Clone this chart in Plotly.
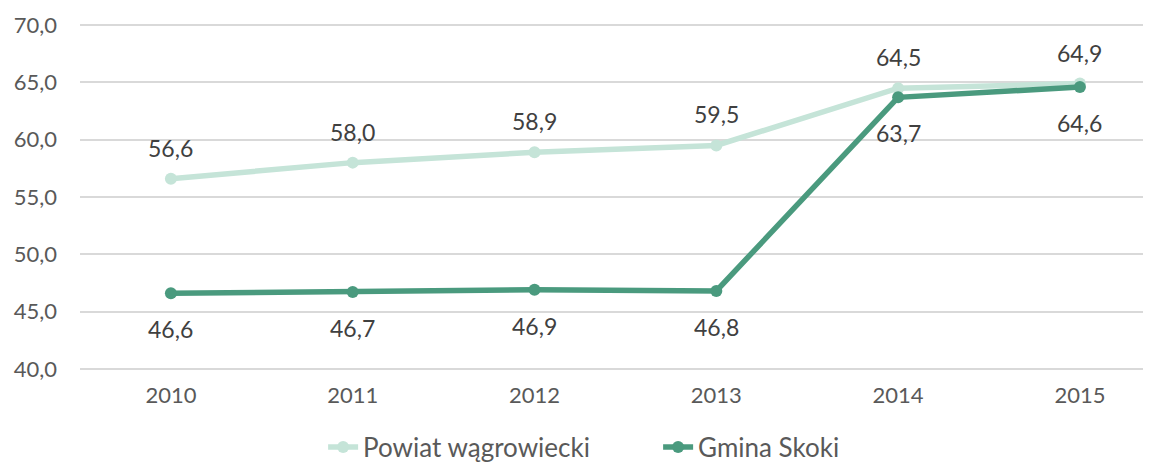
import plotly.graph_objects as go

years = ["2010", "2011", "2012", "2013", "2014", "2015"]
powiat = [56.6, 58.0, 58.9, 59.5, 64.5, 64.9]
gmina = [46.6, 46.7, 46.9, 46.8, 63.7, 64.6]
y_ticks = [40, 45, 50, 55, 60, 65, 70]

FONT = "Lato, 'Open Sans', sans-serif"
light = "#C5E4D8"
dark = "#4A9A7E"

fig = go.Figure()
fig.add_trace(go.Scatter(
    x=years, y=powiat, name="Powiat wągrowiecki", mode="lines+markers",
    line=dict(color=light, width=5.5), marker=dict(color=light, size=12),
))
fig.add_trace(go.Scatter(
    x=years, y=gmina, name="Gmina Skoki", mode="lines+markers",
    line=dict(color=dark, width=5.5), marker=dict(color=dark, size=12),
))

def fmt(v):
    return f"{v:.1f}".replace(".", ",")

annotations = []
for i, yv in enumerate(powiat):
    annotations.append(dict(x=i, y=yv, xref="x", yref="y", text=fmt(yv),
                            showarrow=False, yshift=31,
                            font=dict(family=FONT, size=23, color="#404040")))
for i, yv in enumerate(gmina):
    annotations.append(dict(x=i, y=yv, xref="x", yref="y", text=fmt(yv),
                            showarrow=False, yshift=-36,
                            font=dict(family=FONT, size=23, color="#404040")))

fig.update_layout(
    width=1143, height=454,
    margin=dict(l=72, r=0, t=16, b=92, autoexpand=False),
    paper_bgcolor="white", plot_bgcolor="white",
    separators=", ",
    font=dict(family=FONT, size=22, color="#595959"),
    showlegend=True,
    annotations=annotations,
    legend=dict(orientation="h", x=0.227, xanchor="left",
                yref="container", y=0.033, yanchor="middle",
                entrywidth=290, entrywidthmode="pixels",
                font=dict(size=26, color="#595959"), tracegroupgap=0),
    xaxis=dict(type="category", range=[-0.5, 5.391], showgrid=False, showline=False,
               ticks="", ticklabelstandoff=10, tickfont=dict(size=22, color="#595959")),
    yaxis=dict(range=[39.9, 70.1], tickvals=y_ticks, tickformat=".1f", showgrid=True,
               gridcolor="#D9D9D9", gridwidth=1.5, zeroline=False, showline=False,
               ticks="", ticklabelstandoff=22, tickfont=dict(size=22, color="#595959")),
)
fig.write_html("out.html")
